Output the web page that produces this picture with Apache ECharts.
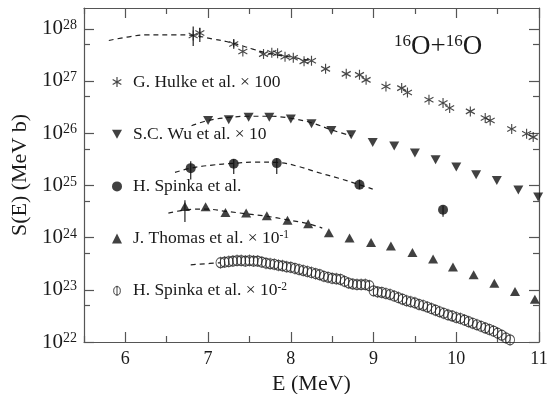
<!DOCTYPE html>
<html><head><meta charset="utf-8">
<script src="https://cdn.jsdelivr.net/npm/echarts@6/dist/echarts.min.js"></script>
<style>html,body{margin:0;padding:0;background:#fff}#c{width:554px;height:394px}</style>
</head><body><div id="c"></div>
<script>
const FONT = "'Liberation Serif','Times New Roman',serif";
const INK = '#1a1a1a';
const AX = '#555';

// ---- data (E in MeV, S in MeV b, already scaled as plotted) ----
const hulkeE = [6.82,6.90,7.31,7.42,7.67,7.77,7.84,7.93,8.03,8.16,8.25,8.42,8.67,8.83,8.91,9.15,9.34,9.41,9.67,9.84,9.92,10.17,10.35,10.41,10.67,10.85,10.93];
const hulkeS = [7.45e27,8.3e27,5.1e27,3.67e27,3.27e27,3.47e27,3.40e27,2.91e27,2.78e27,2.38e27,2.44e27,1.71e27,1.37e27,1.31e27,1.05e27,7.85e26,7.31e26,6.03e26,4.37e26,3.78e26,3.03e26,2.61e26,1.95e26,1.75e26,1.2e26,9.75e25,8.41e25];

const wuE = [7.00,7.25,7.49,7.74,8.00,8.25,8.49,8.73,8.99,9.25,9.50,9.75,10.00,10.24,10.49,10.75,10.99];
const wuS = [1.75e26,1.81e26,2.03e26,2.03e26,1.86e26,1.51e26,1.13e26,9.3e25,6.64e25,5.66e25,4.16e25,3.09e25,2.24e25,1.6e25,1.24e25,8.2e24,6.0e24];

const spinkaE = [6.79,7.31,7.83,8.83,9.84];
const spinkaS = [2.14e25,2.59e25,2.67e25,1.03e25,3.41e24];

const thomasE = [6.72,6.97,7.21,7.46,7.71,7.96,8.21,8.46,8.71,8.97,9.21,9.47,9.72,9.96,10.21,10.46,10.71,10.95];
const thomasS = [3.94e24,3.9e24,3.03e24,2.95e24,2.62e24,2.16e24,1.84e24,1.24e24,9.8e23,8.05e23,6.87e23,5.18e23,3.88e23,2.72e23,1.94e23,1.34e23,9.3e22,6.6e22];

const spinka2E = [7.15,7.20,7.25,7.30,7.35,7.40,7.45,7.50,7.55,7.60,7.65,7.70,7.75,7.80,7.85,7.90,7.95,8.00,8.05,8.10,8.15,8.20,8.25,8.30,8.35,8.40,8.45,8.50,8.55,8.60,8.65,8.70,8.75,8.80,8.85,8.90,8.95,9.00,9.05,9.10,9.15,9.20,9.25,9.30,9.35,9.40,9.45,9.50,9.55,9.60,9.65,9.70,9.75,9.80,9.85,9.90,9.95,10.00,10.05,10.10,10.15,10.20,10.25,10.30,10.35,10.40,10.45,10.50,10.55,10.60,10.65];
const spinka2S = [3.31e23,3.39e23,3.47e23,3.55e23,3.63e23,3.63e23,3.55e23,3.63e23,3.55e23,3.55e23,3.39e23,3.24e23,3.16e23,3.09e23,2.95e23,2.88e23,2.75e23,2.69e23,2.57e23,2.45e23,2.34e23,2.24e23,2.14e23,2.04e23,1.95e23,1.82e23,1.74e23,1.66e23,1.62e23,1.58e23,1.45e23,1.35e23,1.29e23,1.26e23,1.26e23,1.26e23,1.20e23,9.55e22,9.12e22,8.91e22,8.51e22,8.13e22,7.59e22,7.08e22,6.61e22,6.17e22,5.89e22,5.62e22,5.25e22,5.01e22,4.68e22,4.37e22,4.07e22,3.80e22,3.55e22,3.31e22,3.16e22,2.95e22,2.82e22,2.63e22,2.45e22,2.29e22,2.14e22,2.00e22,1.86e22,1.74e22,1.62e22,1.48e22,1.35e22,1.20e22,1.10e22];

// dashed fit curves
const fitHulkeE = [5.80,6.02,6.26,6.58,6.82,7.06,7.22,7.44,7.54,7.70,7.86,8.03,8.25];
const fitHulkeS = [5.97e27,6.93e27,7.67e27,7.67e27,7.45e27,6.35e27,5.71e27,4.58e27,4.07e27,3.47e27,3.1e27,2.82e27,2.44e27];
const fitWuE = [6.80,7.00,7.25,7.49,7.74,8.00,8.25,8.49,8.73];
const fitWuS = [1.39e26,1.75e26,2.0e26,2.11e26,2.11e26,1.93e26,1.58e26,1.16e26,8.9e25];
const fitSpinkaE = [6.60,6.79,7.05,7.31,7.57,7.84,8.10,8.31,8.58,8.83,8.99];
const fitSpinkaS = [1.77e25,2.14e25,2.45e25,2.65e25,2.79e25,2.75e25,2.29e25,1.80e25,1.37e25,1.03e25,8.5e24];
const fitThomasE = [6.52,6.74,6.97,7.21,7.46,7.71,7.96,8.21,8.38];
const fitThomasS = [2.94e24,3.41e24,3.52e24,3.19e24,2.86e24,2.56e24,2.19e24,1.84e24,1.52e24];
const fitSpinka2E = [6.79,6.96,7.15];
const fitSpinka2S = [3.01e23,3.15e23,3.29e23];

// vertical error bars
const errE  = [6.82,6.90,7.31,6.72,6.79,7.31,7.83,8.83,9.84];
const errLo = [4.7e27,5.6e27,4.4e27,2.0e24,1.3e25,1.66e25,1.66e25,8.5e24,2.5e24];
const errHi = [1.1e28,1.05e28,6.2e27,5.2e24,2.9e25,3.2e25,3.3e25,1.29e25,4.1e24];

// ticks
const xMajor = [6,7,8,9,10,11];
const xMinor = [5.5,6.5,7.5,8.5,9.5,10.5];
const yMajor = [1e22,1e23,1e24,1e25,1e26,1e27,1e28];
const yMinor = [5e22,5e23,5e24,5e25,5e26,5e27];

const names = {
  hulke: 'G. Hulke et al. × 100',
  wu: 'S.C. Wu et al. × 10',
  spinka: 'H. Spinka et al.',
  thomas: 'J. Thomas et al. × 10-1',
  spinka2: 'H. Spinka et al. × 10-2'
};
const legendRich = {};
legendRich[names.hulke] = '{sp| }{t|G. Hulke et al. × 100}';
legendRich[names.wu] = '{sp| }{t|S.C. Wu et al. × 10}';
legendRich[names.spinka] = '{sp| }{t|H. Spinka et al.}';
legendRich[names.thomas] = '{sp| }{t|J. Thomas et al. × 10}{s|-1}';
legendRich[names.spinka2] = '{sp| }{t|H. Spinka et al. × 10}{s|-2}';

const STAR = 'path://M0,-10 L0,10 M-8.66,-5 L8.66,5 M-8.66,5 L8.66,-5';
const PHI = 'path://M5,0 L5,12 M5,1 A4,5 0 1 1 5,11 A4,5 0 1 1 5,1 Z';
const TRI_DOWN = 'path://M0,0 L10,0 L5,9 Z';

const zip = (a, b) => a.map((v, i) => [v, b[i]]);

const xBase = {type:'value', min:5.5, max:11, splitLine:{show:false}};
const yBase = {type:'log', logBase:10, min:1e22, max:2.5e28, splitLine:{show:false}};

function xAxis(pos, vals, len, line, label) {
  return Object.assign({}, xBase, {
    position: pos,
    axisLine: {show: line, onZero:false, lineStyle:{color:AX, width:1.2}},
    axisTick: {show:true, inside:true, length:len, customValues: vals, lineStyle:{color:AX, width:1.2}},
    axisLabel: {show: label, customValues: xMajor, margin: 8, color: INK, fontFamily: FONT, fontSize: 18},
    name: label ? 'E (MeV)' : '', nameLocation:'middle', nameGap: 24,
    nameTextStyle: {fontFamily: FONT, fontSize: 22, color: INK}
  });
}
function yAxis(pos, vals, len, line, label) {
  return Object.assign({}, yBase, {
    position: pos,
    axisLine: {show: line, onZero:false, lineStyle:{color:AX, width:1.2}},
    axisTick: {show:true, inside:true, length:len, customValues: vals, lineStyle:{color:AX, width:1.2}},
    axisLabel: {show: label, customValues: yMajor, margin: 7,
      formatter: v => '{b|10}{s|' + Math.round(Math.log10(v)) + '}',
      rich: {
        b: {fontFamily: FONT, fontSize: 21, color: INK, lineHeight: 21},
        s: {fontFamily: FONT, fontSize: 14, color: INK, lineHeight: 14, verticalAlign: 'top'}
      }},
    name: label ? 'S(E) (MeV b)' : '', nameLocation:'middle', nameGap: 42,
    nameTextStyle: {fontFamily: FONT, fontSize: 22, color: INK}
  });
}

const dashed = (name, e, s) => ({
  type:'line', name: name, data: zip(e, s), smooth: 0.4, showSymbol:false, symbol:'none',
  xAxisIndex:0, yAxisIndex:0, silent:true, z:1,
  lineStyle:{color:'#222', width:1.2, type:[5,4]}
});

const chart = echarts.init(document.getElementById('c'), null, {renderer:'canvas'});
chart.setOption({
  animation: false,
  backgroundColor: '#fff',
  grid: {left:84, right:15, top:8, bottom:52, containLabel:false, outerBoundsMode:'none'},
  title: {
    text: '{s|16}{b|O+}{s|16}{b|O}', left: 389, top: 28,
    textStyle: {fontWeight:'normal', rich: {
      b: {fontFamily: FONT, fontSize: 27, fontWeight:'normal', color: INK, lineHeight: 28},
      s: {fontFamily: FONT, fontSize: 17, fontWeight:'normal', color: INK, lineHeight: 16, verticalAlign: 'top'}
    }}
  },
  legend: {
    orient:'vertical', left: 107, top: 67, itemWidth: 10, itemHeight: 10, itemGap: 32.2,
    selectedMode: false,
    formatter: n => legendRich[n],
    textStyle: {fontFamily: FONT, fontSize: 17.5, color: INK, lineHeight: 20,
      rich: {
        sp: {width: 6, fontSize: 17.5, lineHeight: 20},
        t: {fontFamily: FONT, fontSize: 17.5, color: INK, lineHeight: 20},
        s: {fontFamily: FONT, fontSize: 11.5, color: INK, lineHeight: 14, verticalAlign: 'top'}
      }},
    data: [
      {name: names.hulke, itemStyle:{color:'transparent', borderColor:INK, borderWidth:1.2}},
      {name: names.wu, icon: TRI_DOWN},
      {name: names.spinka},
      {name: names.thomas},
      {name: names.spinka2, itemStyle:{color:'transparent', borderColor:INK, borderWidth:1}}
    ]
  },
  xAxis: [
    xAxis('bottom', xMajor, 10, true, true),
    xAxis('bottom', xMinor, 6, false, false),
    xAxis('top', xMajor, 10, true, false),
    xAxis('top', xMinor, 6, false, false)
  ],
  yAxis: [
    yAxis('left', yMajor, 10, true, true),
    yAxis('left', yMinor, 6, false, false),
    yAxis('right', yMajor, 10, true, false),
    yAxis('right', yMinor, 6, false, false)
  ],
  series: [
    dashed('fitHulke', fitHulkeE, fitHulkeS),
    dashed('fitWu', fitWuE, fitWuS),
    dashed('fitSpinka', fitSpinkaE, fitSpinkaS),
    dashed('fitThomas', fitThomasE, fitThomasS),
    dashed('fitSpinka2', fitSpinka2E, fitSpinka2S),
    {
      type:'custom', name:'err', silent:true, z:2,
      data: errE.map((e, i) => [e, errLo[i], errHi[i]]),
      encode: {x:0, y:[1,2]},
      renderItem: (params, api) => {
        const p1 = api.coord([api.value(0), api.value(1)]);
        const p2 = api.coord([api.value(0), api.value(2)]);
        return {type:'line', shape:{x1:p1[0], y1:p1[1], x2:p2[0], y2:p2[1]},
          style:{stroke:'#222', lineWidth:1.2}};
      }
    },
    {type:'scatter', name: names.hulke, data: zip(hulkeE, hulkeS), symbol: STAR, symbolSize:[9,10], z:3,
      itemStyle:{color:'transparent', borderColor:INK, borderWidth:1.2}},
    {type:'scatter', name: names.wu, data: zip(wuE, wuS), symbol:'triangle', symbolRotate:180, symbolSize:[10,9], z:3,
      itemStyle:{color:'#111'}},
    {type:'scatter', name: names.spinka, data: zip(spinkaE, spinkaS), symbol:'circle', symbolSize:10, z:3,
      itemStyle:{color:'#111'}},
    {type:'scatter', name: names.thomas, data: zip(thomasE, thomasS), symbol:'triangle', symbolSize:[10,9], z:3,
      itemStyle:{color:'#111'}},
    {type:'scatter', name: names.spinka2, data: zip(spinka2E, spinka2S), symbol: PHI, symbolSize:[9,12], z:3,
      itemStyle:{color:'transparent', borderColor:'#222', borderWidth:1}}
  ]
});
</script>
</body></html>
